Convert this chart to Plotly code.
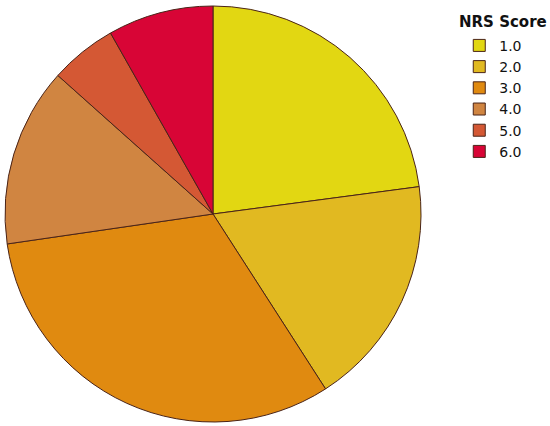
import plotly.graph_objects as go

# NRS score categories and their share of the pie (%)
scores = ["1.0", "2.0", "3.0", "4.0", "5.0", "6.0"]
shares = [22.9, 18.0, 31.8, 13.9, 5.2, 8.2]
colors = ["#e2d712", "#e1b921", "#e08a10", "#d08541", "#d45834", "#d80536"]

fig = go.Figure(
    go.Pie(
        labels=scores,
        values=shares,
        sort=False,
        direction="clockwise",
        rotation=0,
        textinfo="none",
        hoverinfo="label+percent",
        marker=dict(colors=colors, line=dict(color="#4a2418", width=1)),
        domain=dict(x=[5 / 550, 421 / 550], y=[4 / 426, 420 / 426]),
    )
)

# legend title as a separate annotation so items can sit indented below it
fig.add_annotation(
    text="<b>NRS Score</b>",
    xref="paper", yref="paper",
    x=0.998, y=0.975,
    xanchor="right", yanchor="top",
    showarrow=False,
    font=dict(size=15, color="#111111"),
)

fig.update_layout(
    width=550,
    height=426,
    margin=dict(l=0, r=0, t=0, b=0),
    paper_bgcolor="white",
    font=dict(family="DejaVu Sans", color="#111111"),
    legend=dict(
        font=dict(size=14),
        x=0.835,
        xanchor="left",
        y=0.93,
        yanchor="top",
        itemwidth=30,
    ),
)

fig.write_html(
    "out.html",
    config={"displayModeBar": False},
    post_script="document.body.style.margin='0';",
)
